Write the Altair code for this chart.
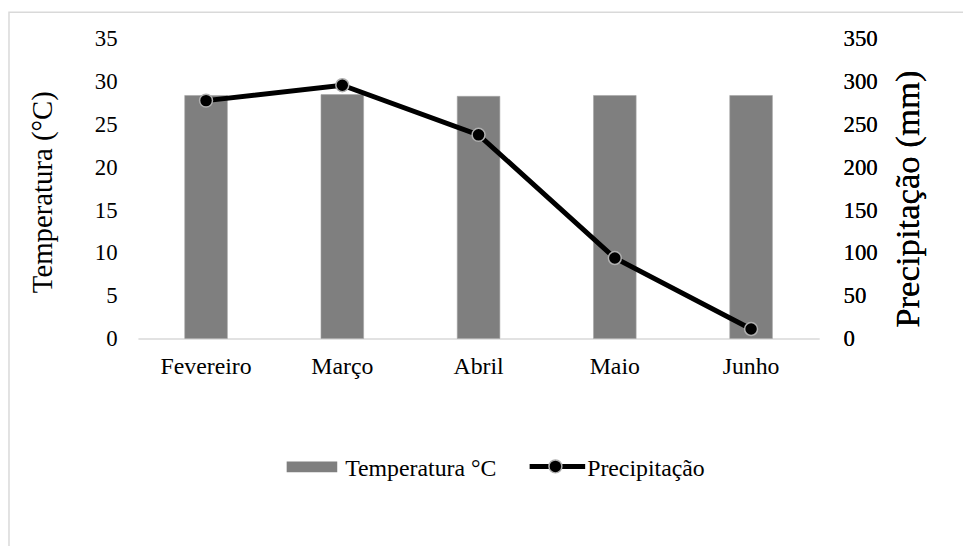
import altair as alt
import pandas as pd

months = ["Fevereiro", "Março", "Abril", "Maio", "Junho"]
temperatura = [28.4, 28.5, 28.3, 28.4, 28.4]
precipitacao = [278, 296, 238, 94, 11]

df = pd.DataFrame({"mes": months, "temp": temperatura, "prec": precipitacao})
one = pd.DataFrame({"k": [0]})

FONT = "Liberation Serif"

x = alt.X("mes:N", sort=months, title=None,
          scale=alt.Scale(paddingInner=0, paddingOuter=0),
          axis=alt.Axis(labelAngle=0, labelFont=FONT, labelFontSize=24, labelColor="#000000",
                        domainColor="#d9d9d9", domainWidth=1.3, ticks=False, labelPadding=16))

bars = alt.Chart(df).mark_bar(size=43, color="#7f7f7f", stroke="#a6a6a6", strokeWidth=0.6).encode(
    x=x,
    y=alt.Y("temp:Q", scale=alt.Scale(domain=[0, 35]),
            axis=alt.Axis(values=[0, 5, 10, 15, 20, 25, 30, 35], title="Temperatura (°C)",
                          labelFont=FONT, labelFontSize=23, labelColor="#000000",
                          titleFont=FONT, titleFontSize=29, titleFontWeight="normal", titleColor="#000000",
                          titleBaseline="middle", titleX=-96, titleY=154,
                          domain=False, ticks=False, tickSize=0, grid=False, labelPadding=21)),
)

yprec = alt.Y("prec:Q", scale=alt.Scale(domain=[0, 350]),
              axis=alt.Axis(orient="right", values=[0, 50, 100, 150, 200, 250, 300, 350],
                            title="Precipitação (mm)", labelFont=FONT, labelFontSize=23, labelColor="#000000",
                            titleFont=FONT, titleFontSize=35, titleFontWeight="normal", titleColor="#000000",
                            titleAngle=270, titleBaseline="middle", titleX=89, titleY=161,
                            domain=False, ticks=False, tickSize=0, grid=False, labelPadding=24))

line = alt.Chart(df).mark_line(color="#000000", strokeWidth=5).encode(x=x, y=yprec)
pts = alt.Chart(df).mark_point(filled=True, shape="circle", size=170, fill="#000000",
                               stroke="#b0b0b0", strokeWidth=1.5, opacity=1).encode(x=x, y=yprec)

# legend
leg_rect = alt.Chart(one).mark_rect(color="#7f7f7f").encode(
    x=alt.value(150), x2=alt.value(201), y=alt.value(426), y2=alt.value(437))
leg_t1 = alt.Chart(one).mark_text(text="Temperatura °C", font=FONT, fontSize=24, align="left",
                                  baseline="alphabetic", color="#000000").encode(
    x=alt.value(209), y=alt.value(441))
leg_line = alt.Chart(one).mark_rule(color="#000000", strokeWidth=5).encode(
    x=alt.value(395), x2=alt.value(451), y=alt.value(431))
leg_pt = alt.Chart(one).mark_point(filled=True, shape="circle", size=170, fill="#000000",
                                   stroke="#b0b0b0", strokeWidth=1.5, opacity=1).encode(
    x=alt.value(421), y=alt.value(431))
leg_t2 = alt.Chart(one).mark_text(text="Precipitação", font=FONT, fontSize=24, align="left",
                                  baseline="alphabetic", color="#000000").encode(
    x=alt.value(453), y=alt.value(441))
frame = alt.Chart(one).mark_rect(fill=None, stroke="#d9d9d9", strokeWidth=1.5).encode(
    x=alt.value(-130), x2=alt.value(900), y=alt.value(-27), y2=alt.value(700))

chart = alt.layer(frame, bars, line, pts, leg_rect, leg_t1, leg_line, leg_pt, leg_t2).resolve_scale(
    y="independent"
).properties(
    width=687, height=302,
    autosize=alt.AutoSizeParams(type="none"),
    padding={"left": 131, "top": 29, "right": 145, "bottom": 207},
).configure_view(stroke=None)

chart.save("out.html", embed_options={"renderer": "svg", "actions": False})
